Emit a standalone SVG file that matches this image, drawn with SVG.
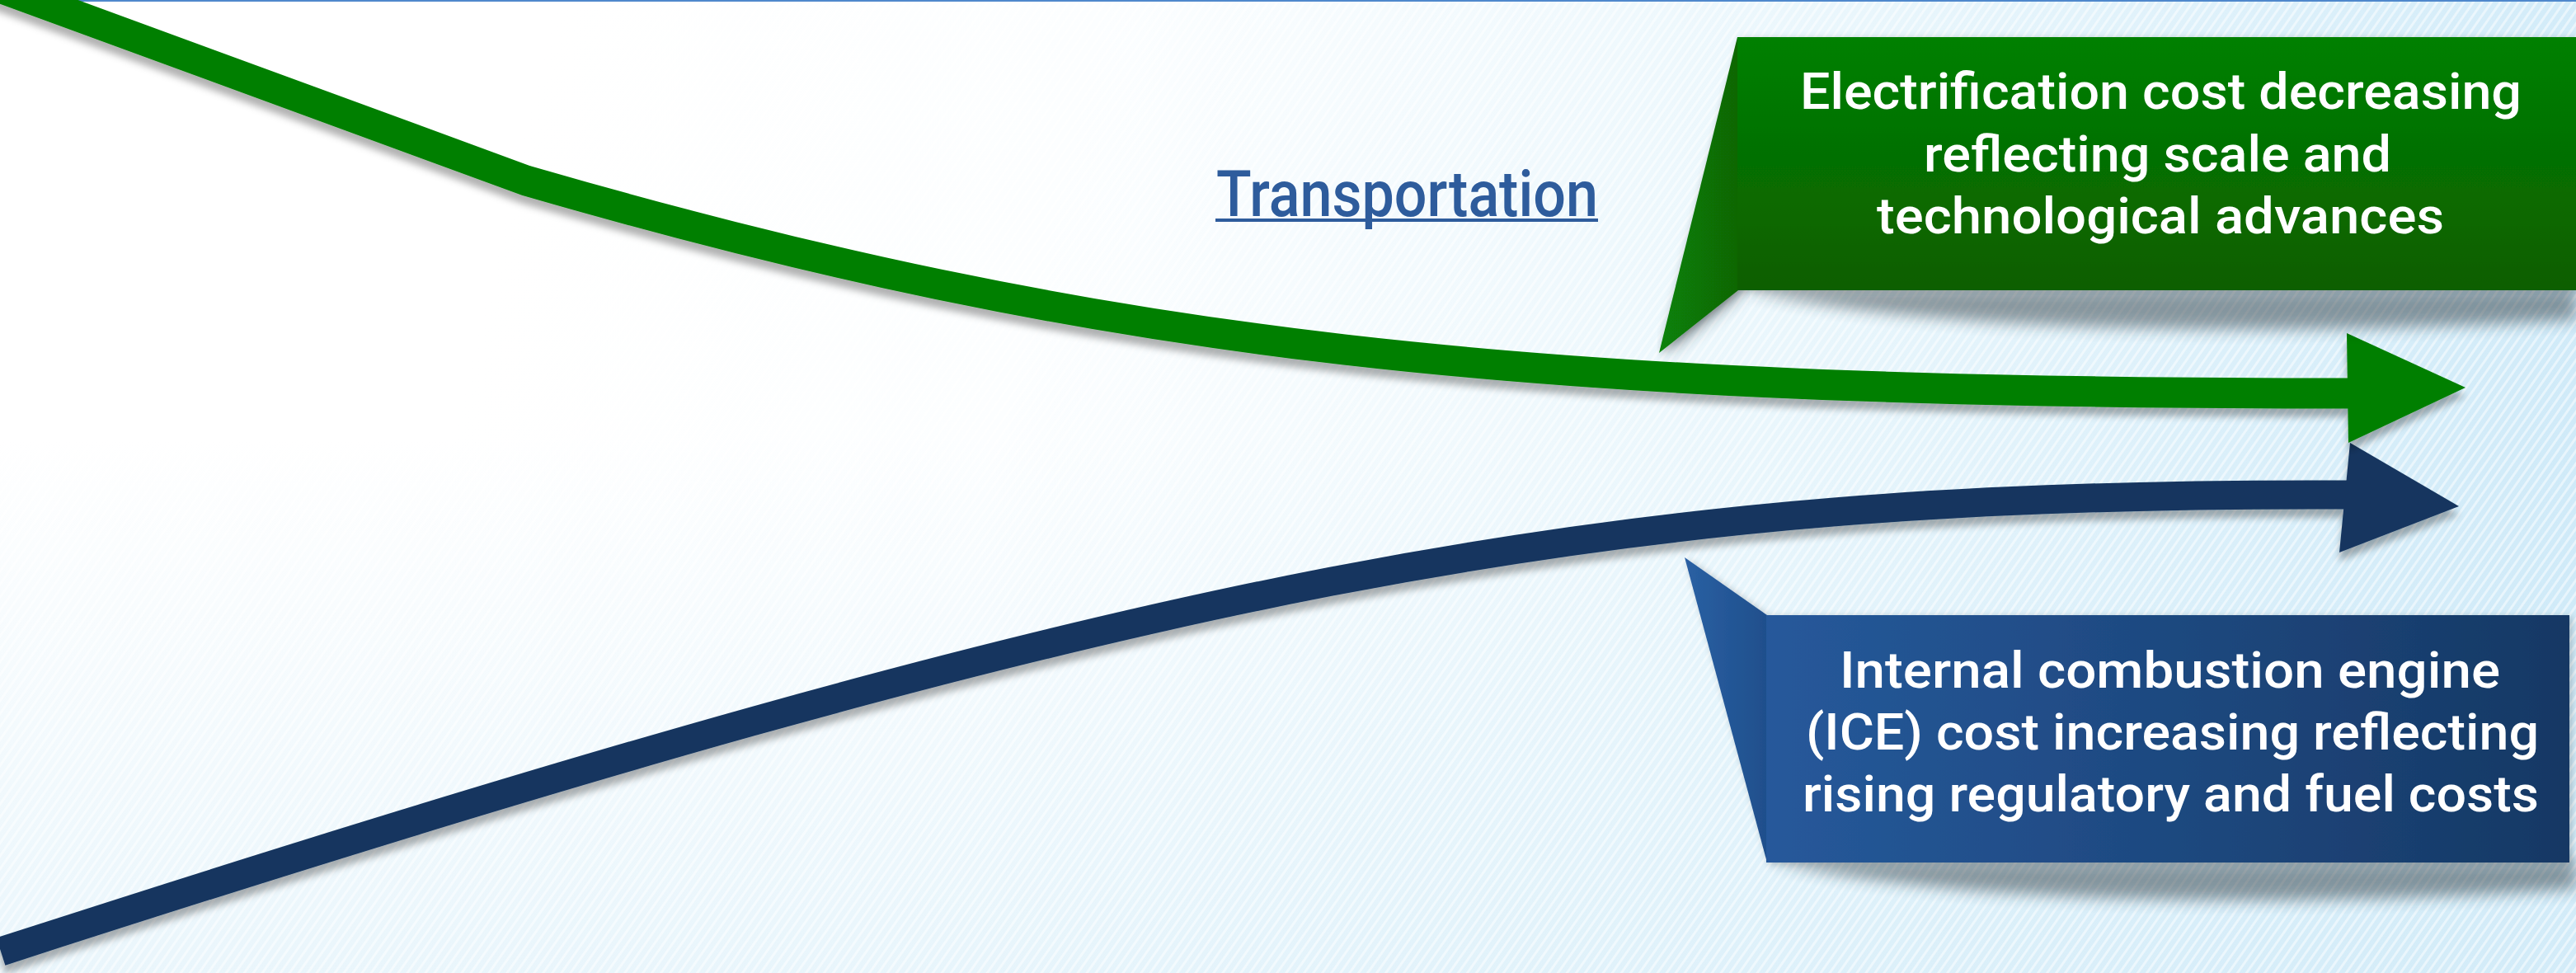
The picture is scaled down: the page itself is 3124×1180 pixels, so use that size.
<svg xmlns="http://www.w3.org/2000/svg" width="3124" height="1180" viewBox="0 0 3124 1180">
<defs>
  <linearGradient id="bg" gradientUnits="userSpaceOnUse" x1="600" y1="300" x2="3124" y2="900">
    <stop offset="0" stop-color="#ffffff"/>
    <stop offset="0.25" stop-color="#fcfeff"/>
    <stop offset="0.6" stop-color="#e9f6fc"/>
    <stop offset="1" stop-color="#cde9f8"/>
  </linearGradient>
  <linearGradient id="bgv" x1="0" y1="0" x2="0" y2="1">
    <stop offset="0.45" stop-color="#d8eef9" stop-opacity="0"/>
    <stop offset="1" stop-color="#d8eef9" stop-opacity="0.55"/>
  </linearGradient>
  <pattern id="stripes" width="9" height="9" patternUnits="userSpaceOnUse" patternTransform="rotate(35)">
    <rect width="3" height="9" fill="#ffffff" opacity="0.5"/>
  </pattern>
  <linearGradient id="gbox" x1="0" y1="0" x2="0" y2="1">
    <stop offset="0" stop-color="#018001"/>
    <stop offset="1" stop-color="#0b5e05"/>
  </linearGradient>
  <linearGradient id="gtail" x1="0" y1="0" x2="1" y2="0">
    <stop offset="0" stop-color="#078207"/>
    <stop offset="1" stop-color="#0a6606"/>
  </linearGradient>
  <linearGradient id="bbox" x1="0" y1="0" x2="1" y2="0">
    <stop offset="0" stop-color="#26599b"/>
    <stop offset="1" stop-color="#163864"/>
  </linearGradient>
  <linearGradient id="btail" x1="0" y1="0" x2="1" y2="0">
    <stop offset="0" stop-color="#2a60a3"/>
    <stop offset="1" stop-color="#1f4f8c"/>
  </linearGradient>
  <filter id="arrowShadow" x="-5%" y="-20%" width="110%" height="140%">
    <feDropShadow dx="0" dy="10" stdDeviation="4" flood-color="#000" flood-opacity="0.3"/>
  </filter>
  <filter id="boxShadow" x="-5%" y="-10%" width="110%" height="125%">
    <feDropShadow dx="3" dy="2" stdDeviation="4" flood-color="#000" flood-opacity="0.22"/>
  </filter>
  <filter id="soft" x="-10%" y="-50%" width="120%" height="200%">
    <feGaussianBlur stdDeviation="9"/>
  </filter>
  <style>
    .band{fill:none;stroke-linecap:butt;stroke-linejoin:miter}
    .green{stroke:#047f04;stroke-width:37}
    .blue{stroke:#15365f;stroke-width:35}
    .lbl{font-family:Roboto,"Liberation Sans",sans-serif;font-weight:500;font-size:62px;fill:#ffffff}
    .title{font-family:Roboto,"Liberation Sans",sans-serif;font-weight:500;font-size:77px;fill:#2e5c9c}
    .curl{fill:#1a2a33;opacity:0.45}
  </style>
</defs>

<g id="background">
  <rect x="0" y="0" width="3124" height="1180" fill="url(#bg)"/>
  <rect x="0" y="0" width="3124" height="1180" fill="url(#bgv)"/>
  <rect x="0" y="0" width="3124" height="1180" fill="url(#stripes)"/>
  <rect x="0" y="0" width="3124" height="2" fill="#4f88cc"/>
</g>

<g id="connectors">
  <g id="ice-arrow" filter="url(#arrowShadow)">
    <path class="band blue" d="M1,1154 C1401,700.4 1950,596 2850,600"/>
    <polygon points="2850,537 2982,614 2837,670" fill="#15365f"/>
  </g>
  <g id="electrification-arrow" filter="url(#arrowShadow)">
    <path class="band green" d="M-30,-26 L638,219 C1338,422 1850,477 2850,477"/>
    <polygon points="2846,404 2990,470 2848,537" fill="#047f04"/>
  </g>
</g>

<g id="electrification-callout">
  <path class="curl" filter="url(#soft)" d="M2112,350 C2300,398 2700,412 3124,388 L3124,350 Z"/>
  <polygon class="curl" filter="url(#soft)" points="2110,90 2020,430 2112,356" opacity="0.5"/>
  <g filter="url(#boxShadow)">
    <polygon points="2107,45 2012,428 2108,352" fill="url(#gtail)"/>
    <rect x="2107" y="45" width="1017" height="307" fill="url(#gbox)"/>
  </g>
  <text class="lbl" x="2183" y="132" textLength="875" lengthAdjust="spacingAndGlyphs">Electrification cost decreasing</text>
  <text class="lbl" x="2333" y="208" textLength="567" lengthAdjust="spacingAndGlyphs">reflecting scale and</text>
  <text class="lbl" x="2276" y="283" textLength="688" lengthAdjust="spacingAndGlyphs">technological advances</text>
</g>

<g id="ice-callout">
  <path class="curl" filter="url(#soft)" d="M2146,1044 C2350,1094 2750,1104 3124,1078 L3124,1044 Z"/>
  <g filter="url(#boxShadow)">
    <polygon points="2043,676 2143,746 2143,1046" fill="url(#btail)"/>
    <rect x="2142" y="746" width="974" height="300" fill="url(#bbox)"/>
  </g>
  <text class="lbl" x="2231" y="834" textLength="801" lengthAdjust="spacingAndGlyphs">Internal combustion engine</text>
  <text class="lbl" x="2190" y="909" textLength="889" lengthAdjust="spacingAndGlyphs">(ICE) cost increasing reflecting</text>
  <text class="lbl" x="2186" y="984" textLength="893" lengthAdjust="spacingAndGlyphs">rising regulatory and fuel costs</text>
</g>

<g id="transportation-title">
  <text class="title" x="1475" y="262" textLength="463" lengthAdjust="spacingAndGlyphs">Transportation</text>
  <rect x="1474" y="265" width="464" height="4" fill="#2e5c9c"/>
</g>
</svg>
